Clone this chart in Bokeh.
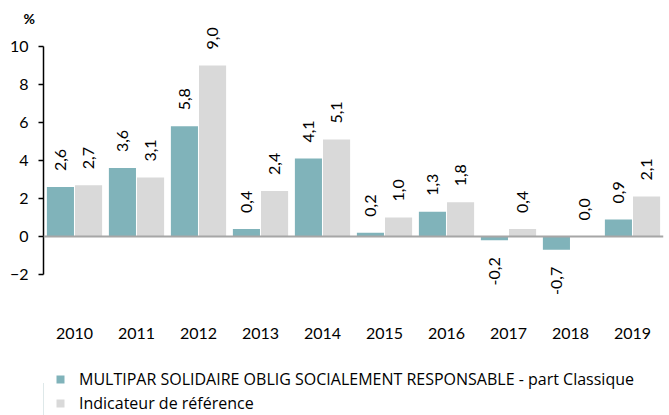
import math
from bokeh.plotting import figure
from bokeh.layouts import column
from bokeh.models import (FactorRange, Range1d, ColumnDataSource, Span,
                          Legend, LegendItem, FixedTicker)
from bokeh.transform import dodge
from bokeh.core.properties import value
from bokeh.embed import file_html
from bokeh.resources import INLINE

years = ["2010", "2011", "2012", "2013", "2014", "2015", "2016", "2017", "2018", "2019"]
fund = [2.6, 3.6, 5.8, 0.4, 4.1, 0.2, 1.3, -0.2, -0.7, 0.9]
bench = [2.7, 3.1, 9.0, 2.4, 5.1, 1.0, 1.8, 0.4, 0.0, 2.1]
y_ticks = [-2, 0, 2, 4, 6, 8, 10]
fund_name = "MULTIPAR SOLIDAIRE OBLIG SOCIALEMENT RESPONSABLE - part Classique"
bench_name = "Indicateur de référence"
unit_label = "%"

TEAL = "#80b3ba"
GREY = "#d9d9d9"
FONT = "Lato"
LFONT = "Open Sans"

def fmt(v):
    return ("%.1f" % v).replace(".", ",")

src = ColumnDataSource(dict(year=years, fund=fund, bench=bench))

p = figure(x_range=FactorRange(factors=years, range_padding=0),
           y_range=Range1d(-3.368, 11.053),
           width=669, height=350,
           min_border_left=43, min_border_right=6, min_border_top=26,
           min_border_bottom=50,
           output_backend="svg", toolbar_location=None)
p.outline_line_color = None
p.xgrid.visible = False
p.ygrid.visible = False

p.title.text = unit_label
p.title.align = "left"
p.title.offset = -20
p.title.standoff = 0
p.title.text_font = FONT
p.title.text_font_size = "14px"
p.title.text_font_style = "bold"
p.title.text_color = "#000000"

OFF = 0.227
W = 0.437
p.vbar(x=dodge("year", -OFF, range=p.x_range), top="fund", width=W,
       source=src, fill_color=TEAL, line_color=None)
p.vbar(x=dodge("year", OFF, range=p.x_range), top="bench", width=W,
       source=src, fill_color=GREY, line_color=None)

p.add_layout(Span(location=0, dimension="width", line_color="#a6a6a6", line_width=2))

for vals, off in ((fund, -OFF), (bench, OFF)):
    pos = [(y, v) for y, v in zip(years, vals) if v >= 0]
    neg = [(y, v) for y, v in zip(years, vals) if v < 0]
    for items, align, yoff in ((pos, "left", -16), (neg, "right", 17)):
        if not items:
            continue
        s = ColumnDataSource(dict(year=[a for a, _ in items], v=[b for _, b in items],
                                  lab=[fmt(b) for _, b in items]))
        p.text(x=dodge("year", off, range=p.x_range), y="v", text="lab", source=s,
               angle=math.pi / 2, text_align=align, text_baseline="middle",
               y_offset=yoff, text_font=value(FONT), text_font_size="16px",
               text_color="#000000")

# y axis
ya = p.yaxis[0]
ya.bounds = (-2, 10)
ya.ticker = FixedTicker(ticks=y_ticks)
ya.minor_tick_line_color = None
ya.major_tick_in = 0
ya.major_tick_out = 5
ya.axis_line_color = "#000000"
ya.axis_line_width = 1.5
ya.major_tick_line_color = "#000000"
ya.major_tick_line_width = 1.5
ya.major_label_standoff = 10
ya.major_label_text_font = FONT
ya.major_label_text_font_size = "16px"
ya.major_label_text_color = "#000000"

# x axis
xa = p.xaxis[0]
xa.axis_line_color = None
xa.major_tick_line_color = None
xa.minor_tick_line_color = None
xa.major_tick_out = 0
xa.major_label_standoff = 27
xa.major_label_text_font = FONT
xa.major_label_text_font_size = "16px"
xa.major_label_text_color = "#000000"

# legend panel (separate small figure below the chart)
lg = figure(width=669, height=65, x_range=Range1d(0, 1), y_range=Range1d(0, 1),
            min_border_left=0, min_border_right=0, min_border_top=0, min_border_bottom=0,
            x_axis_location=None, y_axis_location=None,
            output_backend="svg", toolbar_location=None)
lg.outline_line_color = None
lg.xgrid.visible = False
lg.ygrid.visible = False
off_src = ColumnDataSource(dict(x=[-5.0], top=[0.5]))
d1 = lg.vbar(x="x", top="top", width=0.1, source=off_src, fill_color=TEAL, line_color=None)
d2 = lg.vbar(x="x", top="top", width=0.1, source=off_src, fill_color=GREY, line_color=None)

legend = Legend(items=[LegendItem(label=fund_name, renderers=[d1], index=0),
                       LegendItem(label=bench_name, renderers=[d2], index=0)],
                location=(12, 1), orientation="vertical",
                glyph_width=10, glyph_height=10, label_height=22, spacing=2,
                padding=0, margin=0, label_standoff=14,
                border_line_color=None, background_fill_alpha=0,
                label_text_font=LFONT, label_text_font_size="16px",
                label_text_color="#000000")
lg.add_layout(legend)

layout = column(p, lg, spacing=0)
open("out.html", "w").write(file_html(layout, INLINE))
